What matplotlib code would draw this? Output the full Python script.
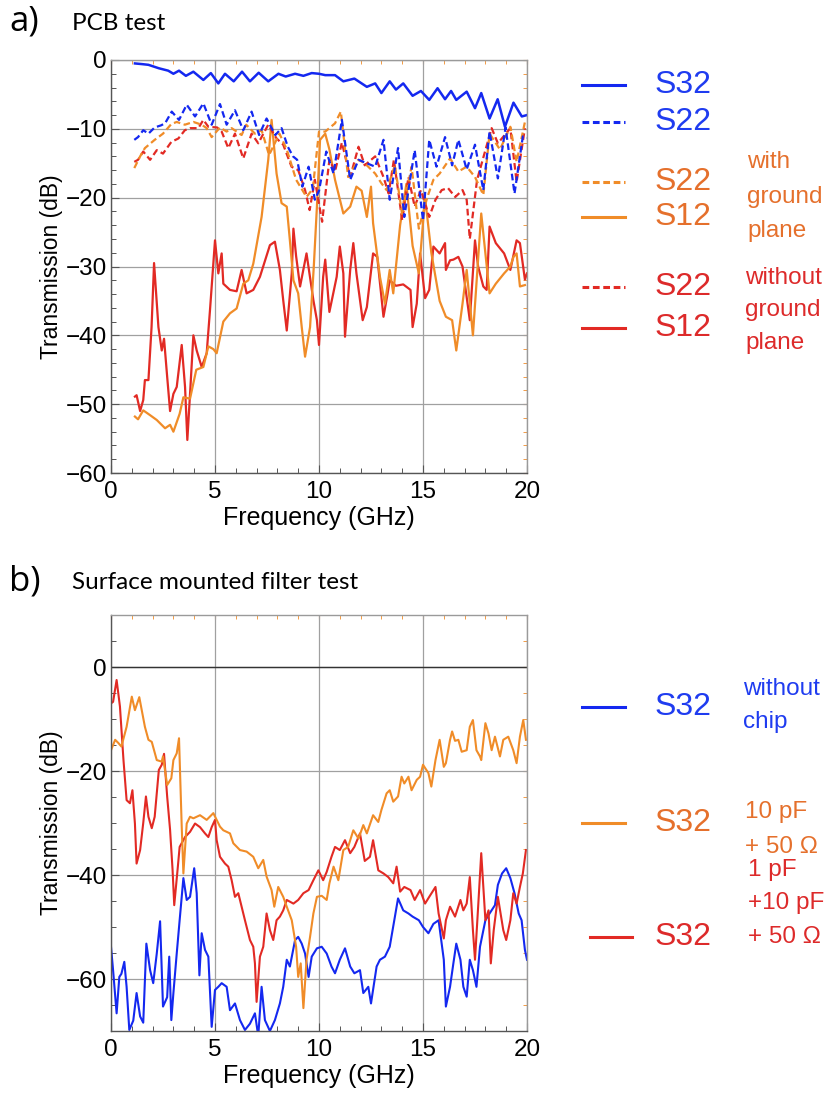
import matplotlib
matplotlib.use("Agg")
import matplotlib.pyplot as plt
from matplotlib.ticker import MultipleLocator

# ---------------- Panel a data (PCB test) ----------------
a_s32_f = [1.15, 1.5, 1.8, 2.3, 2.75, 3.0, 3.27, 3.6, 3.96, 4.44, 4.8, 5.16, 5.48, 5.9, 6.3, 6.68,
           7.1, 7.56, 8.05, 8.4, 8.85, 9.25, 9.65, 10.0, 10.3, 10.77, 11.17, 11.7, 12.3, 12.7, 13.0,
           13.4, 13.7, 14.05, 14.5, 14.9, 15.3, 15.7, 16.06, 16.35, 16.6, 17.1, 17.5, 17.8, 18.2,
           18.59, 18.94, 19.35, 19.75, 20.0]
a_s32_db = [-0.5, -0.6, -0.7, -1.2, -1.55, -2.0, -1.55, -2.3, -1.7, -2.9, -1.9, -3.4, -2.0, -3.1,
            -1.7, -3.1, -1.85, -3.1, -2.0, -2.4, -2.0, -2.3, -1.9, -2.0, -2.2, -2.2, -3.1, -2.7,
            -3.9, -3.4, -4.8, -3.1, -4.3, -3.4, -5.2, -4.5, -5.8, -4.1, -5.7, -4.5, -5.8, -4.6,
            -7.0, -4.8, -8.5, -5.7, -9.7, -6.2, -8.2, -8.0]

a_s22b_f = [1.12, 1.3, 1.55, 1.8, 2.1, 2.4, 2.6, 2.92, 3.27, 3.64, 4.04, 4.44, 4.84, 5.24, 5.56,
            5.96, 6.36, 6.76, 7.12, 7.48, 7.9, 8.2, 8.5, 8.75, 8.95, 9.2, 9.5, 9.8, 10.0, 10.35,
            10.7, 11.1, 11.5, 11.9, 12.3, 12.7, 13.1, 13.4, 13.8, 14.1, 14.6, 15.0, 15.3, 15.65,
            16.06, 16.4, 16.7, 17.1, 17.5, 17.9, 18.2, 18.6, 18.97, 19.4, 19.8, 20.0]
a_s22b_db = [-11.6, -11.2, -10.2, -10.7, -9.8, -9.5, -9.2, -7.5, -8.7, -6.5, -8.2, -6.3, -9.4,
             -6.4, -9.4, -7.3, -10.2, -7.5, -10.9, -8.5, -10.9, -9.9, -12.6, -14.0, -14.5, -18.4,
             -15.5, -20.3, -19.0, -13.3, -16.5, -8.7, -17.4, -14.5, -15.0, -15.5, -11.6, -20.3,
             -12.8, -22.8, -13.1, -23.3, -11.6, -15.5, -11.2, -15.3, -11.6, -15.9, -12.3, -18.9,
             -10.4, -17.2, -9.8, -19.4, -11.1, -11.3]

a_s22o_f = [1.12, 1.4, 1.63, 2.1, 2.5, 2.9, 3.16, 3.55, 3.96, 4.36, 4.6, 4.84, 5.24, 5.56, 5.8,
            6.28, 6.5, 6.92, 7.24, 7.6, 8.1, 8.45, 8.9, 9.4, 9.7, 10.0, 10.3, 10.77, 11.05, 11.4,
            11.9, 12.2, 12.7, 13.0, 13.25, 13.65, 14.0, 14.45, 14.8, 15.2, 15.5, 15.8, 16.3,
            16.7, 17.1, 17.5, 17.9, 18.2, 18.7, 19.2, 19.5, 19.9]
a_s22o_db = [-15.7, -14.0, -12.8, -11.6, -10.7, -9.3, -9.0, -9.4, -9.0, -9.4, -9.9, -11.2, -9.8,
             -10.4, -9.9, -10.9, -9.4, -10.7, -10.2, -13.8, -10.7, -13.0, -17.4, -19.9, -18.7,
             -10.4, -10.4, -9.2, -7.5, -17.0, -14.5, -15.0, -16.5, -17.9, -18.9, -15.3, -22.5,
             -15.5, -24.5, -20.0, -17.4, -16.5, -14.3, -16.2, -15.5, -17.0, -19.6, -10.7, -13.0,
             -9.7, -14.8, -9.0]

a_s22r_f = [1.12, 1.3, 1.55, 1.88, 2.2, 2.5, 2.9, 3.24, 3.55, 3.8, 4.2, 4.44, 4.68, 5.1, 5.32,
            5.64, 5.96, 6.36, 6.76, 7.08, 7.56, 7.96, 8.28, 8.68, 9.0, 9.33, 9.55, 9.8, 10.15,
            10.5, 10.77, 11.1, 11.5, 11.9, 12.2, 12.7, 13.1, 13.35, 13.6, 14.0, 14.3, 14.6, 14.9,
            15.3, 15.6, 15.9, 16.2, 16.55, 16.9, 17.1, 17.25, 17.6, 18.0, 18.3, 18.6, 19.2, 19.5,
            19.9]
a_s22r_db = [-14.8, -14.5, -13.3, -14.5, -13.1, -13.6, -11.9, -11.4, -10.2, -9.9, -9.9, -8.7,
             -9.7, -9.8, -10.4, -12.8, -10.7, -14.3, -10.7, -12.1, -9.4, -11.4, -12.3, -15.5,
             -16.0, -18.9, -21.8, -17.4, -23.5, -14.5, -16.2, -12.0, -17.0, -12.6, -15.3, -14.0,
             -17.0, -19.4, -14.5, -23.3, -17.0, -21.3, -18.9, -22.8, -20.3, -18.9, -18.6, -19.9,
             -18.9, -20.3, -26.0, -17.4, -13.1, -9.9, -12.1, -9.9, -17.7, -9.9]

a_s12o_f = [1.15, 1.3, 1.55, 1.88, 2.2, 2.6, 2.84, 3.0, 3.3, 3.48, 3.8, 4.1, 4.44, 4.68, 4.92,
            5.08, 5.4, 5.72, 6.04, 6.36, 6.6, 6.84, 7.24, 7.56, 7.72, 7.96, 8.2, 8.45, 8.6, 8.77,
            9.0, 9.17, 9.33, 9.57, 9.75, 9.9, 10.05, 10.3, 10.5, 10.77, 11.17, 11.5, 11.8, 12.05,
            12.3, 12.5, 12.6, 12.93, 13.17, 13.4, 13.57, 13.9, 14.2, 14.5, 14.8, 15.1, 15.4,
            15.8, 16.1, 16.4, 16.6, 16.9, 17.1, 17.4, 17.8, 18.2, 18.5, 18.9, 19.2, 19.35, 19.5,
            19.66, 19.9]
a_s12o_db = [-51.8, -52.2, -50.9, -51.6, -52.3, -53.5, -53.0, -54.0, -51.4, -49.0, -49.2, -45.0,
             -44.6, -41.6, -42.0, -42.6, -38.0, -36.8, -36.1, -32.5, -32.0, -29.6, -22.8, -14.5,
             -8.7, -16.5, -20.8, -21.3, -26.2, -32.0, -33.9, -38.8, -43.1, -38.8, -30.0, -21.3,
             -11.6, -10.7, -13.0, -17.4, -22.3, -21.3, -18.4, -19.0, -22.8, -18.4, -23.7, -31.5,
             -35.4, -30.5, -33.9, -24.0, -18.0, -27.0, -31.0, -20.0, -28.0, -35.0, -37.3, -37.8,
             -42.2, -35.4, -30.5, -40.0, -22.3, -33.9, -32.5, -31.0, -30.0, -28.6, -28.1, -32.9,
             -32.7]

a_s12r_f = [1.15, 1.23, 1.4, 1.55, 1.63, 1.8, 1.95, 2.07, 2.28, 2.44, 2.55, 2.7, 2.84, 3.0, 3.16,
            3.4, 3.56, 3.67, 3.8, 3.96, 4.12, 4.36, 4.6, 4.76, 5.0, 5.16, 5.32, 5.4, 5.72, 6.04,
            6.28, 6.52, 6.84, 7.16, 7.64, 7.88, 8.12, 8.28, 8.45, 8.69, 8.77, 8.9, 9.09, 9.4,
            9.73, 9.9, 10.0, 10.2, 10.3, 10.5, 10.85, 11.0, 11.17, 11.25, 11.5, 11.65, 11.8, 12.1,
            12.3, 12.6, 12.8, 13.1, 13.3, 13.4, 13.7, 14.05, 14.4, 14.5, 14.7, 14.86, 15.1, 15.3,
            15.5, 15.8, 16.06, 16.1, 16.3, 16.46, 16.7, 16.9, 17.25, 17.5, 17.65, 17.9, 18.06,
            18.2, 18.5, 18.9, 19.2, 19.5, 19.66, 19.9, 20.0]
a_s12r_db = [-48.9, -48.7, -51.0, -49.4, -46.5, -46.5, -38.8, -29.5, -38.8, -42.2, -40.5, -46.0,
             -51.0, -48.5, -47.5, -41.4, -47.5, -55.2, -48.5, -40.0, -42.2, -44.6, -42.6, -36.3,
             -26.2, -31.0, -28.1, -32.5, -33.4, -33.6, -30.5, -33.9, -33.4, -31.5, -26.9, -26.4,
             -30.5, -34.9, -39.3, -31.0, -24.5, -28.5, -32.9, -28.1, -34.9, -37.8, -41.4, -31.5,
             -29.0, -36.6, -31.5, -27.1, -31.0, -40.2, -30.5, -26.6, -31.0, -37.8, -35.9, -28.1,
             -28.6, -37.3, -33.9, -32.0, -32.8, -32.6, -33.4, -38.8, -35.4, -28.1, -34.6, -33.4,
             -27.1, -28.1, -26.6, -30.5, -29.1, -29.0, -28.6, -30.0, -37.8, -26.2, -30.0, -32.9,
             -33.4, -24.2, -26.6, -28.1, -30.5, -26.2, -26.6, -31.9, -31.0]

# ---------------- Panel b data (surface mounted filter test) ----------------
b_blue_f = [0.0, 0.1, 0.27, 0.4, 0.5, 0.64, 0.75, 0.88, 1.07, 1.23, 1.4, 1.55, 1.7, 1.88, 2.03,
            2.2, 2.36, 2.5, 2.7, 2.8, 2.9, 3.0, 3.16, 3.3, 3.48, 3.64, 3.8, 4.0, 4.12, 4.25, 4.36,
            4.52, 4.68, 4.84, 5.0, 5.16, 5.32, 5.56, 5.72, 5.96, 6.2, 6.44, 6.68, 6.92, 7.08,
            7.24, 7.4, 7.64, 7.88, 8.12, 8.28, 8.45, 8.6, 8.85, 9.0, 9.17, 9.33, 9.5, 9.65, 9.9,
            10.13, 10.37, 10.6, 10.77, 11.0, 11.25, 11.5, 11.7, 11.97, 12.13, 12.37, 12.5, 12.77,
            12.93, 13.17, 13.4, 13.65, 13.8, 14.05, 14.3, 14.5, 14.8, 15.0, 15.26, 15.5, 15.75,
            16.0, 16.1, 16.3, 16.46, 16.6, 16.8, 16.94, 17.1, 17.25, 17.4, 17.57, 17.74, 18.0,
            18.2, 18.46, 18.6, 18.8, 19.0, 19.2, 19.4, 19.6, 19.74, 19.9, 20.0]
b_blue_db = [-53.8, -58.3, -66.6, -59.6, -59.0, -56.7, -61.5, -69.8, -68.0, -62.7, -67.2, -68.4,
             -53.2, -58.3, -60.8, -55.1, -48.9, -65.3, -63.5, -55.7, -67.9, -62.7, -55.1, -48.7,
             -40.6, -44.8, -44.2, -38.7, -43.5, -59.3, -51.2, -54.4, -55.7, -69.2, -62.1, -61.5,
             -60.8, -61.5, -66.0, -64.7, -67.9, -69.8, -68.6, -66.6, -71.0, -61.5, -67.9, -70.0,
             -67.9, -64.7, -61.5, -56.3, -57.6, -52.5, -51.9, -53.2, -55.1, -59.6, -55.7, -54.1,
             -53.8, -55.1, -57.6, -58.9, -56.3, -54.1, -57.6, -58.9, -58.3, -62.7, -61.5, -64.7,
             -57.6, -56.3, -55.7, -53.8, -48.0, -44.5, -46.8, -47.4, -48.0, -48.7, -50.0, -51.2,
             -49.4, -48.7, -56.3, -65.3, -61.5, -57.0, -53.2, -56.3, -61.5, -63.4, -56.3, -58.3,
             -61.5, -53.8, -48.7, -47.4, -45.8, -41.9, -39.7, -38.7, -40.6, -43.5, -47.4, -48.7,
             -54.4, -56.3]

b_orange_f = [0.0, 0.2, 0.35, 0.5, 0.75, 1.0, 1.15, 1.36, 1.63, 1.8, 1.96, 2.2, 2.44, 2.5, 2.7,
              2.9, 3.0, 3.16, 3.27, 3.4, 3.48, 3.64, 3.8, 3.96, 4.28, 4.6, 4.92, 5.24, 5.4, 5.72,
              5.88, 6.2, 6.52, 6.84, 7.08, 7.32, 7.48, 7.72, 7.85, 8.04, 8.28, 8.45, 8.69, 8.9,
              9.0, 9.12, 9.25, 9.4, 9.57, 9.73, 9.9, 10.13, 10.37, 10.5, 10.7, 10.93, 11.17, 11.4,
              11.65, 11.9, 12.13, 12.3, 12.6, 12.85, 13.0, 13.25, 13.4, 13.57, 13.8, 13.97, 14.1,
              14.3, 14.45, 14.7, 14.86, 15.0, 15.26, 15.4, 15.6, 15.8, 16.0, 16.1, 16.3, 16.4,
              16.54, 16.7, 16.86, 17.1, 17.25, 17.4, 17.57, 17.74, 17.8, 18.0, 18.15, 18.3, 18.46,
              18.7, 18.86, 19.1, 19.34, 19.5, 19.66, 19.82, 19.95]
b_orange_db = [-16.0, -14.0, -14.6, -15.3, -11.5, -5.7, -8.3, -5.8, -11.5, -14.0, -14.4, -17.9,
               -18.2, -17.2, -22.7, -21.4, -17.9, -16.6, -13.7, -30.7, -39.7, -30.1, -28.8, -29.1,
               -28.5, -29.4, -28.1, -30.7, -31.4, -32.0, -33.9, -35.2, -35.5, -36.5, -38.7, -37.1,
               -40.3, -42.9, -46.1, -42.3, -44.2, -46.1, -48.7, -53.8, -59.6, -57.0, -65.6, -56.3,
               -51.9, -47.4, -44.2, -44.0, -44.8, -41.6, -38.4, -41.0, -35.2, -34.6, -31.4, -33.0,
               -30.4, -32.0, -28.5, -29.8, -27.5, -24.3, -23.7, -25.9, -24.9, -21.1, -22.4, -21.1,
               -23.7, -21.7, -21.1, -18.8, -20.4, -23.0, -17.9, -14.0, -19.2, -18.5, -14.0, -12.4,
               -14.2, -14.0, -16.3, -16.0, -11.5, -10.2, -16.0, -17.2, -17.9, -10.8, -12.8, -16.0,
               -13.4, -17.2, -14.0, -13.4, -16.0, -18.5, -13.4, -10.2, -14.0]

b_red_f = [0.0, 0.1, 0.27, 0.43, 0.6, 0.75, 0.91, 1.03, 1.15, 1.23, 1.4, 1.55, 1.68, 1.8, 1.96,
           2.1, 2.3, 2.44, 2.55, 2.7, 2.84, 2.96, 3.04, 3.2, 3.3, 3.56, 3.8, 4.04, 4.28, 4.52,
           4.68, 4.84, 5.0, 5.08, 5.24, 5.48, 5.64, 5.8, 5.96, 6.12, 6.28, 6.44, 6.68, 6.84, 6.92,
           7.0, 7.16, 7.32, 7.48, 7.64, 7.8, 7.96, 8.12, 8.28, 8.45, 8.77, 9.0, 9.25, 9.5, 9.73,
           9.97, 10.2, 10.37, 10.6, 10.77, 11.0, 11.25, 11.5, 11.7, 11.97, 12.2, 12.45, 12.6,
           12.85, 13.1, 13.33, 13.57, 13.73, 13.9, 14.1, 14.4, 14.6, 14.86, 15.1, 15.3, 15.6,
           15.75, 16.0, 16.1, 16.3, 16.54, 16.8, 16.94, 17.1, 17.25, 17.4, 17.5, 17.66, 17.8,
           18.0, 18.15, 18.26, 18.4, 18.6, 18.86, 19.0, 19.2, 19.34, 19.5, 19.66, 19.8, 19.95]
b_red_db = [-7.0, -6.7, -2.5, -7.6, -17.9, -25.6, -26.2, -23.7, -30.1, -37.8, -35.2, -30.0,
            -24.9, -28.8, -31.0, -28.8, -19.8, -18.8, -16.7, -24.9, -31.3, -39.0, -45.8, -39.0,
            -34.6, -32.7, -31.7, -30.1, -30.8, -32.0, -32.7, -30.8, -29.4, -33.3, -36.5, -37.8,
            -38.4, -41.0, -44.2, -43.5, -46.1, -48.7, -52.5, -53.8, -57.0, -64.4, -55.7, -53.8,
            -47.4, -50.6, -52.5, -48.7, -48.0, -46.8, -44.8, -45.5, -44.8, -43.5, -42.9, -41.0,
            -39.1, -41.0, -39.4, -36.5, -34.6, -35.2, -33.3, -35.8, -34.6, -32.0, -37.3, -36.5,
            -33.3, -39.1, -39.7, -40.4, -41.6, -38.4, -43.2, -42.3, -42.9, -44.8, -42.9, -45.5,
            -44.2, -42.3, -47.4, -52.2, -48.7, -46.1, -48.0, -44.8, -46.8, -45.5, -40.4, -50.6,
            -56.3, -45.5, -35.8, -48.7, -46.8, -57.0, -50.6, -44.2, -50.6, -52.5, -48.7, -43.5,
            -45.5, -42.3, -39.7, -35.2]

# ---------------- styling ----------------
BLUE = "#1428f0"
ORANGE = "#f08c28"
RED = "#e22a24"
TXT_BLUE = "#1f3cf0"
TXT_ORANGE = "#e5702c"
TXT_RED = "#dd2a2a"
DASH = (0, (3.0, 1.6))

W, H = 838, 1097
fig = plt.figure(figsize=(W / 100, H / 100), dpi=100)
plt.rcParams["font.family"] = ["Liberation Sans", "DejaVu Sans"]


def fx(px):
    return px / W


def fy(py):
    return 1 - py / H


def style_axes(ax, ymajor, yminor):
    ax.set_xlim(0, 20)
    ax.xaxis.set_major_locator(MultipleLocator(5))
    ax.xaxis.set_minor_locator(MultipleLocator(1))
    ax.yaxis.set_major_locator(MultipleLocator(ymajor))
    ax.yaxis.set_minor_locator(MultipleLocator(yminor))
    ax.tick_params(which="both", direction="in", color="#555555", labelsize=17.5,
                   top=False, right=False)
    ax.tick_params(axis="x", which="major", pad=6)
    ax.tick_params(axis="y", which="major", pad=3)
    ax.tick_params(which="major", length=6, width=0.8)
    ax.tick_params(which="minor", length=3.5, width=0.7)
    for s in ("left", "bottom"):
        ax.spines[s].set_color("#555555")
        ax.spines[s].set_linewidth(1.0)
    for s in ("top", "right"):
        ax.spines[s].set_color("#9a9a9a")
        ax.spines[s].set_linewidth(1.0)
    sx = ax.secondary_xaxis("top")
    sx.xaxis.set_major_locator(MultipleLocator(5))
    sx.xaxis.set_minor_locator(MultipleLocator(1))
    sx.tick_params(which="both", direction="in", color=ORANGE, labeltop=False, length=3)
    sx.spines["top"].set_visible(False)
    sy = ax.secondary_yaxis("right")
    sy.yaxis.set_major_locator(MultipleLocator(ymajor))
    sy.yaxis.set_minor_locator(MultipleLocator(yminor))
    sy.tick_params(which="both", direction="in", color=ORANGE, labelright=False, length=3)
    sy.spines["right"].set_visible(False)
    ax.set_xlabel("Frequency (GHz)", fontsize=18, labelpad=2)
    ax.set_ylabel("Transmission (dB)", fontsize=16.5, labelpad=2)


# ---------------- Panel a ----------------
axa = fig.add_axes([fx(111), fy(473), fx(527 - 111), (473 - 60) / H])
axa.set_ylim(-60, 0)
style_axes(axa, 10, 2)
axa.grid(True, which="major", color="#a0a0a0", lw=0.9)
axa.set_axisbelow(True)
axa.plot(a_s12r_f, a_s12r_db, color=RED, lw=1.6)
axa.plot(a_s12o_f, a_s12o_db, color=ORANGE, lw=1.6)
axa.plot(a_s22r_f, a_s22r_db, color=RED, lw=1.6, ls=DASH)
axa.plot(a_s22o_f, a_s22o_db, color=ORANGE, lw=1.6, ls=DASH)
axa.plot(a_s22b_f, a_s22b_db, color=BLUE, lw=1.6, ls=DASH)
axa.plot(a_s32_f, a_s32_db, color=BLUE, lw=1.8)

# ---------------- Panel b ----------------
axb = fig.add_axes([fx(111), fy(1031), fx(527 - 111), (1031 - 615) / H])
axb.set_ylim(-70, 10)
style_axes(axb, 20, 5)
axb.grid(True, which="major", color="#a0a0a0", lw=0.9)
axb.axhline(0, color="#333333", lw=1.0, zorder=1.5)
axb.set_axisbelow(True)
axb.plot(b_blue_f, b_blue_db, color=BLUE, lw=1.5)
axb.plot(b_red_f, b_red_db, color=RED, lw=1.5)
axb.plot(b_orange_f, b_orange_db, color=ORANGE, lw=1.5)

# ---------------- titles ----------------
fig.text(fx(9), fy(22), "a)", fontsize=25, family=["Open Sans", "DejaVu Sans"], va="center")
fig.text(fx(72), fy(23), "PCB test", fontsize=17.5, family=["Lato", "DejaVu Sans"], va="center")
fig.text(fx(9), fy(581), "b)", fontsize=25, family=["Open Sans", "DejaVu Sans"], va="center")
fig.text(fx(72), fy(582), "Surface mounted filter test", fontsize=17.5,
         family=["Lato", "DejaVu Sans"], va="center")

# ---------------- legend-like annotations ----------------
def legline(y, color, dashed=False, x0=582, x1=625):
    fig.add_artist(plt.Line2D([fx(x0), fx(x1)], [fy(y), fy(y)], color=color, lw=2.2,
                              ls=(0, (2.2, 1.2)) if dashed else "-", transform=fig.transFigure))


def big(y, s, c):
    fig.text(fx(655), fy(y), s, fontsize=23, color=c, va="center", ha="left")


def small(y, s, c, x=747):
    fig.text(fx(x), fy(y), s, fontsize=17.5, color=c, va="center", ha="left")


legline(85, BLUE)
big(85, "S32", TXT_BLUE)
legline(122, BLUE, True)
big(122, "S22", TXT_BLUE)
legline(182, ORANGE, True)
big(182, "S22", TXT_ORANGE)
legline(217, ORANGE)
big(217, "S12", TXT_ORANGE)
small(162, "with", TXT_ORANGE)
small(197, "ground", TXT_ORANGE)
small(231, "plane", TXT_ORANGE)
legline(287, RED, True)
big(287, "S22", TXT_RED)
legline(328, RED)
big(328, "S12", TXT_RED)
small(278, "without", TXT_RED, 745)
small(310, "ground", TXT_RED, 745)
small(343, "plane", TXT_RED, 745)

legline(707, BLUE)
big(707, "S32", TXT_BLUE)
small(689, "without", TXT_BLUE, 743)
small(722, "chip", TXT_BLUE, 743)
legline(823, ORANGE)
big(823, "S32", TXT_ORANGE)
small(812, "10 pF", TXT_ORANGE, 745)
small(847, "+ 50 \u03a9", TXT_ORANGE, 745)
legline(937, RED, x0=590, x1=632)
big(937, "S32", TXT_RED)
small(870, "1 pF", TXT_RED, 748)
small(903, "+10 pF", TXT_RED, 748)
small(937, "+ 50 \u03a9", TXT_RED, 748)

fig.savefig("out.png", dpi=100)
